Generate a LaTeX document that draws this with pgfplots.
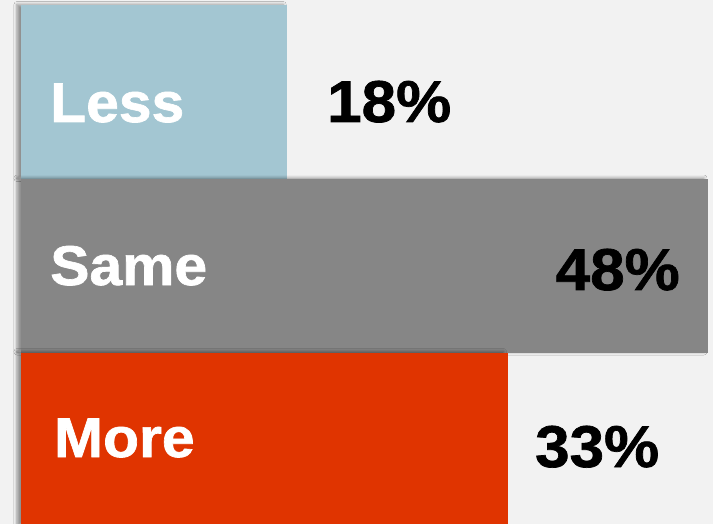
\documentclass[border=0pt]{standalone}
\usepackage{fontspec}
\setmainfont{Liberation Sans}[BoldFeatures={FakeBold=1.2,FakeStretch=1.05}]
\usepackage{pgfplots}
\pgfplotsset{compat=1.18}
\usetikzlibrary{shadows.blur}
\definecolor{bgc}{HTML}{F2F2F2}
\definecolor{lessc}{HTML}{A3C6D2}
\definecolor{samec}{HTML}{868686}
\definecolor{morec}{HTML}{E03400}
\begin{document}
\begin{tikzpicture}
\path[use as bounding box, fill=bgc] (0,0) rectangle (713pt,524pt);
\begin{axis}[
  at={(0,0)}, anchor=south west,
  scale only axis, width=713pt, height=524pt,
  hide axis,
  xmin=-1.467, xmax=48.35,
  ymin=0, ymax=524, y dir=reverse,
  xbar, bar width=174, bar shift=0pt,
  every axis plot/.append style={draw=none,
    /tikz/blur shadow={shadow xshift=-4pt, shadow yshift=1pt, shadow blur radius=3pt, shadow opacity=40}},
]
\addplot[fill=lessc] coordinates {(18.6,92.5)};
\addplot[fill=samec] coordinates {(48,266)};
\addplot[fill=morec] coordinates {(34,439.5)};
\node[anchor=base west, text=white, font=\fontsize{56}{60}\selectfont\bfseries, inner sep=0pt] at (axis cs:2.03,122) {Less};
\node[anchor=base west, text=white, font=\fontsize{56}{60}\selectfont\bfseries, inner sep=0pt] at (axis cs:2.03,285) {Same};
\node[anchor=base west, text=white, font=\fontsize{56}{60}\selectfont\bfseries, inner sep=0pt] at (axis cs:2.3,457) {More};
\node[anchor=base west, text=black, font=\fontsize{59}{62}\selectfont\bfseries, inner sep=0pt] at (axis cs:21.38,122) {18\%};
\node[anchor=base east, text=black, font=\fontsize{59}{62}\selectfont\bfseries, inner sep=0pt] at (axis cs:46.04,290) {48\%};
\node[anchor=base west, text=black, font=\fontsize{59}{62}\selectfont\bfseries, inner sep=0pt] at (axis cs:35.91,467) {33\%};
\end{axis}
\end{tikzpicture}
\end{document}
